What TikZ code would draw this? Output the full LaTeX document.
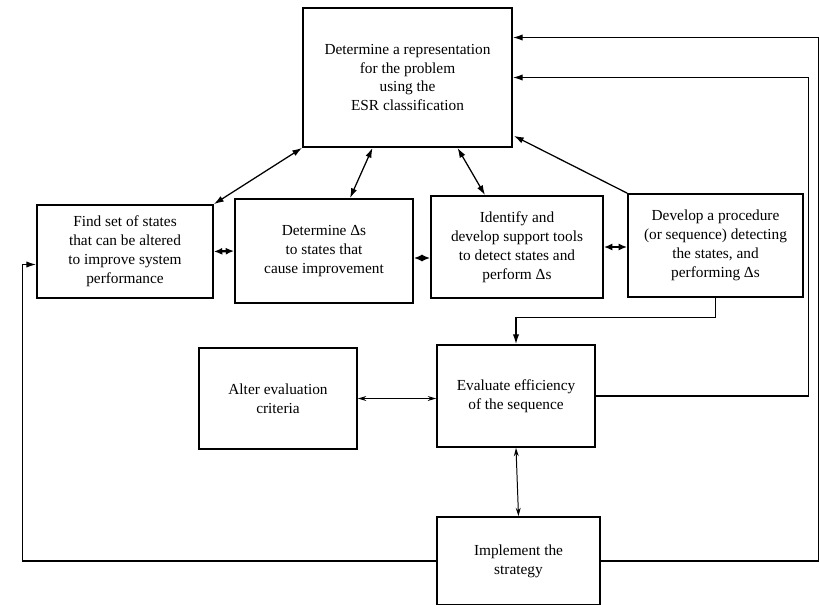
\documentclass[tikz,border=0pt]{standalone}
\usepackage{fontspec}
\setmainfont{Liberation Serif}
\usetikzlibrary{calc,arrows.meta}
\newcommand\stagenode[6]{% name, x, y, width, height, text

  \node[stagebox,minimum width=#4*0.025cm,minimum height=#5*0.025cm] at (#2,#3) (#1) {#6};

}

\begin{document}
\begin{tikzpicture}[x=0.025cm,y=-0.025cm]
		\tikzstyle{every path}=[line width=0.9pt]
		\tikzstyle{stagebox}=[draw,line width=1.2pt,align=center,inner sep=2pt,
								  font=\fontsize{10.9}{13.5}\selectfont]
		\tikzstyle{FlowSty}=[-{Latex[length=7pt,width=4.5pt]}]
		\tikzstyle{PairSty}=[{Latex[length=7pt,width=4.5pt]}-{Latex[length=7pt,width=4.5pt]}]
		\tikzstyle{LinkSty}=[{Latex[length=6pt,width=5pt]}-{Latex[length=6pt,width=5pt]},line width=1.5pt]
		\tikzstyle{ThinSty}=[{Stealth[length=6pt,width=3.5pt]}-{Stealth[length=6pt,width=3.5pt]},line width=0.7pt]

\useasboundingbox (0,0) rectangle (820,604);

\stagenode{rep}{407.5}{77.5}{209}{139}{Determine a representation\\for the problem\\using the\\ESR classification}
\stagenode{find}{125}{251.5}{176}{93}{Find set of states\\that can be altered\\to improve system\\performance}
\stagenode{delta}{324}{251}{178}{104}{Determine Δs\\to states that\\cause improvement}
\stagenode{tools}{517}{247}{172}{102}{Identify and\\develop support tools\\to detect states and\\perform Δs}
\stagenode{proc}{715.5}{245.5}{175}{103}{Develop a procedure\\(or sequence) detecting\\the states, and\\performing Δs}
\stagenode{alter}{278}{398.5}{158}{101}{Alter evaluation\\criteria}
\stagenode{eval}{516}{396}{158}{102}{Evaluate efficiency\\of the sequence}
\stagenode{impl}{518.5}{561}{163}{88}{Implement the\\strategy}

% links up to the representation box
\draw[PairSty] (rep.south west) -- (find.north east);
\draw[PairSty] ($(rep.south)+(-35,0)$) -- ($(delta.north)+(26,0)$);
\draw[PairSty] ($(rep.south)+(50,0)$) -- ($(tools.north)+(-32,0)$);
\draw[FlowSty] (proc.north west) -- ($(rep.south east)+(1,-12)$);

% chain of steps
\coordinate (dlink) at ($(delta.east)+(0,7)$);
\draw[LinkSty] (find.east) -- (delta.west);
\draw[LinkSty] (dlink) -- (dlink -| tools.west);
\draw[LinkSty] (tools.east) -- (tools.east -| proc.west);

\draw[FlowSty] (proc.south) -- ++(0,20) -| (eval.north);
\draw[ThinSty] (alter.east) -- (alter.east -| eval.west);
\draw[ThinSty] (eval.south) -- (impl.north);

% feedback loops
\draw[FlowSty] (eval.east) -| ($(rep.east)+(296,0)$) -- (rep.east);
\draw[FlowSty] (impl.east) -| ($(rep.east)+(306,-40)$) -- ($(rep.east)+(0,-40)$);
\draw[FlowSty] (impl.west) -| ($(find.west)+(-14,13)$) -- ($(find.west)+(0,13)$);

\end{tikzpicture}
\end{document}
